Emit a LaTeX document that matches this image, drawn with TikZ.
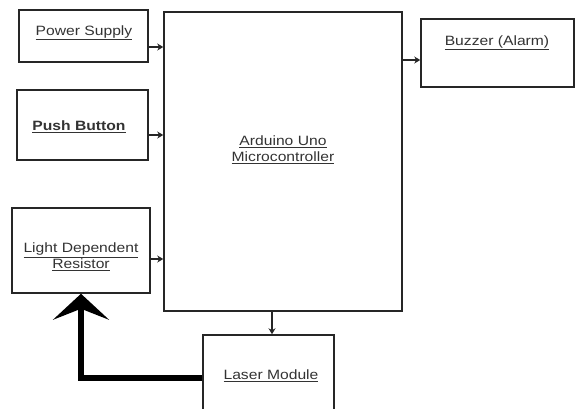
\documentclass[tikz,border=0pt]{standalone}
\usepackage{fontspec}
\setmainfont[FakeStretch=1.16]{Liberation Sans}
\usetikzlibrary{arrows.meta}
\definecolor{txt}{HTML}{333333}
\begin{document}
\begin{tikzpicture}[x=1pt,y=-1pt,
  box/.style={draw=black!85, line width=1.5pt, inner sep=0pt, fill=white},
  lbl/.style={font=\fontsize{13.5}{17}\selectfont, text=txt, align=center, inner sep=0pt},
  conn/.style={draw=black!85, line width=1.5pt, -{Stealth[length=6pt,width=7pt]}},
  bigarrow/.style={draw=black, line width=5.5pt, -{Stealth[length=26pt,width=56pt,inset=11pt]}}]
\useasboundingbox (0,0) rectangle (575,408);
% boxes
\node[box, minimum width=129pt, minimum height=52pt] (ps) at (83.5,36) {};
\node[box, minimum width=131pt, minimum height=70pt] (pb) at (82.5,125) {};
\node[box, minimum width=138pt, minimum height=85pt] (ldr) at (81,250.5) {};
\node[box, minimum width=238pt, minimum height=299pt] (ard) at (283,161.5) {};
\node[box, minimum width=153pt, minimum height=68pt] (buz) at (497.5,53) {};
\node[box, minimum width=131pt, minimum height=86pt] (las) at (268.5,378) {};
% labels
\node[lbl] (psl) at (84,33) {\underline{Power Supply}};
\node[lbl, font=\bfseries\fontsize{13.5}{17}\selectfont] (pbl) at (79,127) {\underline{Push Button}};
\node[lbl] (ldrl) at (81,257) {\underline{Light Dependent}\\[-1pt]\underline{Resistor}};
\node[lbl] (ardl) at (283,150) {\underline{Arduino Uno}\\[-1pt]\underline{Microcontroller}};
\node[lbl] (buzl) at (497,43) {\underline{Buzzer (Alarm)}};
\node[lbl] (lasl) at (271,376) {\underline{Laser Module}};
% connectors
\draw[conn] (ps.east |- 0,47) -- (ard.west |- 0,47);
\draw[conn] (pb.east |- 0,135) -- (ard.west |- 0,135);
\draw[conn] (ldr.east |- 0,259) -- (ard.west |- 0,259);
\draw[conn] (ard.east |- 0,60) -- (buz.west |- 0,60);
\draw[conn] (ard.south -| 272,0) -- (las.north -| 272,0);
\draw[bigarrow] (las.west) -| (ldr.south);
\end{tikzpicture}
\end{document}
